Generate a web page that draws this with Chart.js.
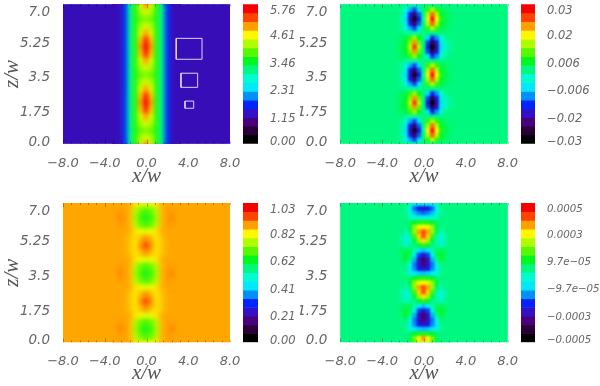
<!DOCTYPE html>
<html><head><meta charset="utf-8">
<style>html,body{margin:0;padding:0;background:#fff}canvas{position:absolute}</style>
<script src="https://cdn.jsdelivr.net/npm/chart.js@4"></script>
</head><body>
<script>
// ---- axis text
const xTickValues=[-8,-4,0,4,8];
const xTickLabels=['\u22128.0','\u22124.0','0.0','4.0','8.0'];
const zTickLabels=['0.0','1.75','3.5','5.25','7.0'];
const zTickAnchors=[0.08,1.57,3.33,5.05,6.58];
const barTickAnchors=[0.012,0.18,0.378,0.575,0.77,0.953];
const barLabels1=['0.00','1.15','2.31','3.46','4.61','5.76'];
const barLabels2=['\u22120.03','\u22120.02','\u22120.006','0.006','0.02','0.03'];
const barLabels3=['0.00','0.21','0.41','0.62','0.82','1.03'];
const barLabels4=['\u22120.0005','\u22120.0003','\u22129.7e\u221205','9.7e\u221205','0.0003','0.0005'];
const bandColors=['#000000','#2b0038','#48007c','#3410c4','#0024fa','#0090f8','#00e8fa','#00fcd0','#00f880','#00f820','#58f800','#b0fc00','#fff800','#ffa000','#ff4400','#f80000'];
// ---- cell centres
const xsCoarse=[-3,-2.5,-2,-1.5,-1,-0.5,0,0.5,1,1.5,2,2.5,3];
const zsCoarse=[0,.35,.7,1.05,1.4,1.75,2.1,2.45,2.8,3.15,3.5,3.85,4.2,4.55,4.9,5.25,5.6,5.95,6.3,6.65,7];
const xsFine=[-2.55,-2.125,-1.7,-1.275,-.85,-.425,0,.425,.85,1.275,1.7,2.125,2.55];
const zsFine=[0,.2333,.4667,.7,.9333,1.1667,1.4,1.6333,1.8667,2.1,2.3333,2.5667,2.8,3.0333,3.2667,3.5,3.7333,3.9667,4.2,4.4333,4.6667,4.9,5.1333,5.3667,5.6,5.8333,6.0667,6.3,6.5333,6.7667,7];
// ---- panel 1 field (top left)
const a0=[1.2,1.25,1.7,3.0,3.6,4.85,5.75,4.85,3.6,3.0,1.7,1.25,1.2];
const a1=[1.2,1.25,1.7,3.0,3.6,4.7,5.4,4.7,3.6,3.0,1.7,1.25,1.2];
const a2=[1.2,1.25,1.7,3.0,3.6,4.35,4.85,4.35,3.6,3.0,1.7,1.25,1.2];
const a3=[1.2,1.25,1.7,3.0,3.6,4.1,4.3,4.1,3.6,3.0,1.7,1.25,1.2];
const a4=[1.2,1.25,1.7,3.0,3.55,3.85,3.95,3.85,3.55,3.0,1.7,1.25,1.2];
const field1=[a2,a3,a4,a3,a2,a1,a0,a1,a2,a3,a4,a3,a2,a1,a0,a1,a2,a3,a4,a3,a2];
// ---- panel 2 field (top right), thousandths
const b3=[1.9,1.9,1,0,0,1,1.9,2,2,2,2,2,1.9];
const bA2=[1.9,1,-3,-8,-12,-6,1.9,8,13,8,4,3,2.2];
const bA1=[1.9,.5,-5,-14,-22,-11,1.9,13,23,13,6,3.5,2.5];
const bA0=[1.9,0,-6,-17,-27,-15,0,17,27,17,7,4,2.5];
const bB2=[2.2,3,4,8,12,6,1.9,-6,-13,-9,-3,1,1.9];
const bB1=[2.5,3.5,5,11,21,10,1.9,-12,-23,-15,-5,-.5,1];
const bB0=[2.5,3.5,6,14,25,13,1.9,-16,-28,-18,-6,-1,1];
const field2=[b3,bA2,bA1,bA0,bA1,bA2,b3,bB2,bB1,bB0,bB1,bB2,b3,bA2,bA1,bA0,bA1,bA2,b3,bB2,bB1,bB0,bB1,bB2,b3,bA2,bA1,bA0,bA1,bA2,b3];
// ---- panel 3 field (bottom left)
const c0=[.865,.885,.87,.85,.73,.66,.63,.66,.73,.85,.87,.885,.865];
const c1=[.865,.87,.87,.85,.74,.69,.66,.69,.74,.85,.87,.87,.865];
const c2=[.865,.865,.865,.855,.82,.79,.78,.79,.82,.855,.865,.865,.865];
const c3=[.865,.865,.86,.84,.82,.85,.88,.85,.82,.84,.86,.865,.865];
const c4=[.865,.865,.86,.84,.82,.88,.93,.88,.82,.84,.86,.865,.865];
const field3=[c2,c1,c0,c1,c2,c3,c4,c3,c2,c1,c0,c1,c2,c3,c4,c3,c2,c1,c0,c1,c2];
// ---- panel 4 field (bottom right), 1e-5 units
const d14=[3.1,3.1,3.1,5,9,11,12,11,9,5,3.1,3.1,3.1];
const d13=[3.1,3,2,7,20,26,28,26,20,7,2,3,3.1];
const d12=[3.1,2.5,0,5,20,34,40,34,20,5,0,2.5,3.1];
const d11=[3.1,1,-5,1,14,31,40,31,14,1,-5,1,3.1];
const d10=[3.1,1,-6,0,7,20,30,20,7,0,-6,1,3.1];
const d9=[3.1,2,-1,1,3,8,12,8,3,1,-1,2,3.1];
const d8=[3.1,4,6,5,0,-9,-12,-9,0,5,6,4,3.1];
const d7=[3.1,5,9,5,-7,-20,-27,-20,-7,5,9,5,3.1];
const d6=[3.1,4,8,3,-13,-28,-36,-28,-13,3,8,4,3.1];
const d5=[3.1,3,4,-6,-17,-28,-34,-28,-17,-6,4,3,3.1];
const d4=[3.1,3,2,-8,-16,-24,-27,-24,-16,-8,2,3,3.1];
const d3=[3.1,3,2,-5,-9,-11,-12,-11,-9,-5,2,3,3.1];
const dBottom0=[3.1,3.1,3,5,15,24,27,24,15,5,3,3.1,3.1];
const dBottom1=[3.1,3.1,3,6,18,28,35,28,18,6,3,3.1,3.1];
const dTop27=[3.1,3,3,-1,-4,-5,-5,-5,-4,-1,3,3,3.1];
const dTop28=[3.1,3,1,-4,-12,-16,-18,-16,-12,-4,1,3,3.1];
const dTop29=[3.1,3,2,-5,-18,-24,-26,-24,-18,-5,2,3,3.1];
const dTop30=[3.1,3.1,3,-2,-6,-8,-8,-8,-6,-2,3,3.1,3.1];
const field4=[dBottom0,dBottom1,d14,d3,d4,d5,d6,d7,d8,d9,d10,d11,d12,d13,d14,d3,d4,d5,d6,d7,d8,d9,d10,d11,d12,d13,d14,dTop27,dTop28,dTop29,dTop30];
// ---- white boxes of panel 1
const boxXs=[[2.85,5.32],[3.3,4.9],[3.69,4.52]];
const boxZs=[[4.24,5.29],[2.83,3.54],[1.78,2.14]];

const AXIS_GREY='#666';
const xFont={family:"'DejaVu Sans'",style:'italic',size:13};
const zFont={family:"'DejaVu Sans'",style:'italic',size:13.5};
const titleFont={family:"'Liberation Serif'",style:'italic',size:21};

function hexRgb(h){return [1,3,5].map(i=>parseInt(h.substr(i,2),16));}
function colourFor(v,min,max){
  let k=(v-min)/(max-min)*16-.5;
  k=Math.max(0,Math.min(15,k));
  const i=Math.min(14,Math.floor(k)),t=k-i,a=hexRgb(bandColors[i]),b=hexRgb(bandColors[i+1]);
  return 'rgb('+a.map((c,j)=>Math.round(c+(b[j]-c)*t)).join(',')+')';
}
function noPad(s){s.paddingLeft=s.paddingRight=s.paddingTop=s.paddingBottom=0;}
const softenPlugin={id:'soften',afterDatasetDraw(chart,args){
  if(chart.data.datasets[args.index].label!=='field')return;
  const a=chart.chartArea,ctx=chart.ctx;
  ctx.save();ctx.beginPath();ctx.rect(a.left,a.top,a.width,a.height);ctx.clip();
  ctx.filter='blur('+chart.options.plugins.soften.radius+'px)';
  ctx.drawImage(chart.canvas,a.left,a.top,a.width,a.height,a.left,a.top,a.width,a.height);
  ctx.restore();
}};
const edgeTicks={id:'edgeTicks',afterDatasetsDraw(chart){
  const {x}=chart.scales,a=chart.chartArea,ctx=chart.ctx;
  ctx.save();ctx.strokeStyle='rgba(0,0,0,.28)';ctx.lineWidth=1;ctx.beginPath();
  for(let v=-8;v<=8.001;v+=.8){const p=Math.round(x.getPixelForValue(v))+.5,l=Math.abs(v%4)<.01?4:2;
    ctx.moveTo(p,a.top);ctx.lineTo(p,a.top+l);ctx.moveTo(p,a.bottom);ctx.lineTo(p,a.bottom-l);}
  ctx.stroke();ctx.restore();
}};
function addCanvas(left,top,w,h){
  const c=document.createElement('canvas');c.width=w;c.height=h;
  c.style.cssText='left:'+left+'px;top:'+top+'px;width:'+w+'px;height:'+h+'px';
  document.body.appendChild(c);return c;
}
function panel(o){
  const plotW=o.right-o.left;
  const cx=o.xs[1]-o.xs[0],cz=o.zs[1]-o.zs[0],cells=[],cols=[];
  o.field.forEach((row,r)=>row.forEach((v,c)=>{
    cells.push({x:o.xs[c],y:[o.zs[r]-cz/2-.02,o.zs[r]+cz/2+.02]});
    cols.push(colourFor(v,o.min,o.max));
  }));
  const datasets=[
    {type:'bar',label:'bg',order:3,data:[{x:0,y:[0,7]}],backgroundColor:colourFor(o.bg,o.min,o.max),barThickness:plotW+2,grouped:false},
    {type:'bar',label:'field',order:2,data:cells,backgroundColor:cols,barThickness:cx/16*plotW+.6,grouped:false}
  ];
  (o.boxes||[]).forEach(b=>datasets.push({type:'line',order:1,
    data:[{x:b[0][0],y:b[1][0]},{x:b[0][1],y:b[1][0]},{x:b[0][1],y:b[1][1]},{x:b[0][0],y:b[1][1]},{x:b[0][0],y:b[1][0]}],
    borderColor:'#dcd4fa',borderWidth:1,pointRadius:0,tension:0,fill:false}));
  const c=addCanvas(o.cl,o.ct,o.cw,o.ch);
  new Chart(c,{type:'bar',data:{datasets},plugins:[softenPlugin,edgeTicks],options:{
    responsive:false,animation:false,devicePixelRatio:1,
    layout:{autoPadding:false,padding:{left:0,top:o.top-o.ct,right:o.cl+o.cw-o.right,bottom:0}},
    plugins:{legend:{display:false},tooltip:{enabled:false},soften:{radius:o.blur}},
    scales:{
      x:{type:'linear',min:-8,max:8,offset:false,grid:{display:false},border:{display:false},
        afterBuildTicks(s){s.ticks=xTickValues.map(v=>({value:v}));},
        afterFit(s){s.height=o.ct+o.ch-o.bottom;noPad(s);},
        ticks:{autoSkip:false,maxRotation:0,minRotation:0,padding:o.xPad,color:AXIS_GREY,font:xFont,callback:(v,i)=>xTickLabels[i]},
        title:{display:true,text:'x/w',color:'#555',font:titleFont,padding:{top:0,bottom:o.titlePad}}},
      y:{type:'linear',min:0,max:7,grid:{display:false},border:{display:false},
        afterBuildTicks(s){s.ticks=zTickAnchors.map(v=>({value:v}));},
        afterFit(s){s.width=o.left-o.cl;noPad(s);},
        ticks:{autoSkip:false,padding:5,color:AXIS_GREY,font:zFont,callback:(v,i)=>zTickLabels[i]},
        title:{display:!!o.yTitle,text:'z/w',color:'#555',font:titleFont,padding:{top:0,bottom:0}}}
    }}});
}
function colourBar(o){
  const edges=bandColors.map((_,k)=>[k/16,(k+1)/16]);
  const c=addCanvas(o.cl,o.ct,o.cw,o.ch);
  new Chart(c,{type:'bar',data:{datasets:[{data:edges.map(e=>({x:0,y:e})),backgroundColor:bandColors,barThickness:o.w,grouped:false}]},options:{
    responsive:false,animation:false,devicePixelRatio:1,
    layout:{autoPadding:false,padding:{left:0,top:o.top-o.ct,right:0,bottom:o.ct+o.ch-o.bottom}},
    plugins:{legend:{display:false},tooltip:{enabled:false}},
    scales:{
      x:{type:'linear',min:-1,max:1,offset:false,display:false,
        afterFit(s){s.height=0;noPad(s);}},
      y:{type:'linear',position:'right',min:0,max:1,grid:{display:false},border:{display:false},
        afterBuildTicks(s){s.ticks=barTickAnchors.map(v=>({value:v}));},
        afterFit(s){s.width=o.cw-o.w;noPad(s);},
        ticks:{autoSkip:false,padding:4,color:AXIS_GREY,font:{family:"'DejaVu Sans'",style:'italic',size:o.size},callback:(v,i)=>o.labels[i]}}
    }}});
}
const T1=4.3,B1=143.7,T2=203,B2=342.3;
panel({field:field1,xs:xsCoarse,zs:zsCoarse,min:0,max:5.76,bg:1.2,boxes:[0,1,2].map(i=>[boxXs[i],boxZs[i]]),blur:2,
  cl:0,ct:0,cw:242,ch:193,left:63,right:230,top:T1,bottom:B1,xPad:4,titlePad:4,yTitle:true});
panel({field:field2,xs:xsFine,zs:zsFine,min:-30,max:30,bg:1.9,blur:1.2,
  cl:300,ct:0,cw:220,ch:193,left:340.3,right:507.7,top:T1,bottom:B1,xPad:4,titlePad:4});
panel({field:field3,xs:xsCoarse,zs:zsCoarse,min:0,max:1.03,bg:.865,blur:2,
  cl:0,ct:193,cw:242,ch:193,left:63,right:230,top:T2,bottom:B2,xPad:4,titlePad:0,yTitle:true});
panel({field:field4,xs:xsFine,zs:zsFine,min:-50,max:50,bg:3.1,blur:1.2,
  cl:300,ct:193,cw:220,ch:193,left:340.3,right:507.7,top:T2,bottom:B2,xPad:4,titlePad:0});
colourBar({labels:barLabels1,size:11.5,cl:243,ct:0,cw:57,ch:150,w:15,top:T1,bottom:B1});
colourBar({labels:barLabels2,size:11.5,cl:521,ct:0,cw:79,ch:150,w:14,top:T1,bottom:B1});
colourBar({labels:barLabels3,size:11.5,cl:243,ct:193,cw:57,ch:155,w:15,top:T2,bottom:B2});
colourBar({labels:barLabels4,size:10.2,cl:521,ct:193,cw:79,ch:155,w:14,top:T2,bottom:B2});
</script>
</body></html>
